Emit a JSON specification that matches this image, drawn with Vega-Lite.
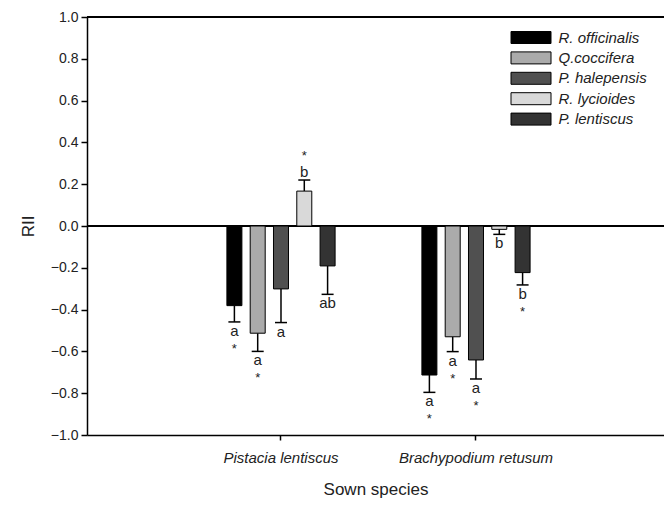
{
  "$schema": "https://vega.github.io/schema/vega-lite/v6.json",
  "width": 577,
  "height": 418,
  "autosize": {"type": "none"},
  "padding": {"left": 87, "top": 17, "right": 0, "bottom": 70},
  "config": {
    "view": {"stroke": null},
    "font": "Liberation Sans",
    "axis": {"labelFont": "Liberation Sans", "titleFont": "Liberation Sans", "labelColor": "#222", "titleColor": "#222", "titleFontWeight": "normal", "domainColor": "#000", "tickColor": "#000", "grid": false}
  },
  "data": {
    "values": [
      {"sown": "Pistacia lentiscus", "species": "R. officinalis", "rii": -0.381, "end": -0.459, "letter": "a", "star": "*"},
      {"sown": "Pistacia lentiscus", "species": "Q.coccifera", "rii": -0.513, "end": -0.600, "letter": "a", "star": "*"},
      {"sown": "Pistacia lentiscus", "species": "P. halepensis", "rii": -0.301, "end": -0.462, "letter": "a", "star": ""},
      {"sown": "Pistacia lentiscus", "species": "R. lycioides", "rii": 0.167, "end": 0.220, "letter": "b", "star": "*"},
      {"sown": "Pistacia lentiscus", "species": "P. lentiscus", "rii": -0.191, "end": -0.327, "letter": "ab", "star": ""},
      {"sown": "Brachypodium retusum", "species": "R. officinalis", "rii": -0.713, "end": -0.796, "letter": "a", "star": "*"},
      {"sown": "Brachypodium retusum", "species": "Q.coccifera", "rii": -0.530, "end": -0.601, "letter": "a", "star": "*"},
      {"sown": "Brachypodium retusum", "species": "P. halepensis", "rii": -0.641, "end": -0.732, "letter": "a", "star": "*"},
      {"sown": "Brachypodium retusum", "species": "R. lycioides", "rii": -0.016, "end": -0.040, "letter": "b", "star": ""},
      {"sown": "Brachypodium retusum", "species": "P. lentiscus", "rii": -0.223, "end": -0.282, "letter": "b", "star": "*"}
    ]
  },
  "encoding": {
    "x": {
      "field": "sown", "type": "nominal",
      "sort": ["Pistacia lentiscus", "Brachypodium retusum"],
      "scale": {"type": "band", "paddingInner": 0, "paddingOuter": 0.4795, "align": 0.516},
      "axis": {"title": "Sown species", "labelAngle": 0, "labelFontSize": 15, "labelFontStyle": "italic", "labelPadding": 10, "tickSize": 5, "tickWidth": 1.5, "domainWidth": 1.5, "titleFontSize": 17, "titlePadding": 16}
    },
    "xOffset": {
      "field": "species", "type": "nominal",
      "sort": ["R. officinalis", "Q.coccifera", "P. halepensis", "R. lycioides", "P. lentiscus"],
      "scale": {"type": "band", "range": [43.4, 151.6], "paddingInner": 0.356, "paddingOuter": 0}
    }
  },
  "layer": [
    {
      "mark": {"type": "rule", "color": "#000", "strokeWidth": 1.5},
      "encoding": {"y": {"datum": 0, "type": "quantitative"}, "x": null, "xOffset": null}
    },
    {
      "mark": {"type": "rule", "color": "#000", "strokeWidth": 1.5},
      "encoding": {"y": {"datum": 1, "type": "quantitative"}, "x": null, "xOffset": null}
    },
    {
      "mark": {"type": "rule", "color": "#000", "strokeWidth": 1.5},
      "encoding": {
        "y": {"field": "rii", "type": "quantitative"},
        "y2": {"field": "end"}
      }
    },
    {
      "mark": {"type": "tick", "color": "#000", "size": 12, "thickness": 1.5, "opacity": 1},
      "encoding": {"y": {"field": "end", "type": "quantitative"}}
    },
    {
      "mark": {"type": "bar", "stroke": "#000", "strokeWidth": 1},
      "encoding": {
        "y": {
          "field": "rii", "type": "quantitative",
          "scale": {"domain": [-1, 1], "nice": false, "zero": true},
          "axis": {"title": "RII", "values": [-1, -0.8, -0.6, -0.4, -0.2, 0, 0.2, 0.4, 0.6, 0.8, 1], "format": ".1f", "labelFontSize": 14, "tickSize": 6, "tickWidth": 1.5, "domainWidth": 1.5, "labelPadding": 3, "titleFontSize": 17, "titlePadding": 13}
        },
        "y2": {"datum": 0},
        "fill": {
          "field": "species", "type": "nominal",
          "sort": ["R. officinalis", "Q.coccifera", "P. halepensis", "R. lycioides", "P. lentiscus"],
          "scale": {"domain": ["R. officinalis", "Q.coccifera", "P. halepensis", "R. lycioides", "P. lentiscus"], "range": ["#000000", "#ababab", "#505050", "#d9d9d9", "#333333"]},
          "legend": {
            "title": null, "orient": "none", "legendX": 433.5, "legendY": 10,
            "symbolType": "M-2,-0.6H2V0.6H-2Z", "symbolSize": 400,
            "symbolStrokeColor": "#000", "symbolStrokeWidth": 1, "symbolOpacity": 1,
            "labelFont": "Liberation Sans", "labelFontStyle": "italic", "labelFontSize": 15, "labelColor": "#222",
            "labelOffset": 17, "rowPadding": 1.4, "padding": 0
          }
        }
      }
    },
    {
      "transform": [{"filter": "datum.rii < 0"}],
      "mark": {"type": "text", "fontSize": 15, "color": "#222", "baseline": "alphabetic", "dy": 14},
      "encoding": {"y": {"field": "end", "type": "quantitative"}, "text": {"field": "letter"}}
    },
    {
      "transform": [{"filter": "datum.rii < 0"}],
      "mark": {"type": "text", "fontSize": 13, "color": "#222", "baseline": "alphabetic", "dy": 31},
      "encoding": {"y": {"field": "end", "type": "quantitative"}, "text": {"field": "star"}}
    },
    {
      "transform": [{"filter": "datum.rii > 0"}],
      "mark": {"type": "text", "fontSize": 15, "color": "#222", "baseline": "alphabetic", "dy": -3},
      "encoding": {"y": {"field": "end", "type": "quantitative"}, "text": {"field": "letter"}}
    },
    {
      "transform": [{"filter": "datum.rii > 0"}],
      "mark": {"type": "text", "fontSize": 13, "color": "#222", "baseline": "alphabetic", "dy": -20},
      "encoding": {"y": {"field": "end", "type": "quantitative"}, "text": {"field": "star"}}
    }
  ]
}
